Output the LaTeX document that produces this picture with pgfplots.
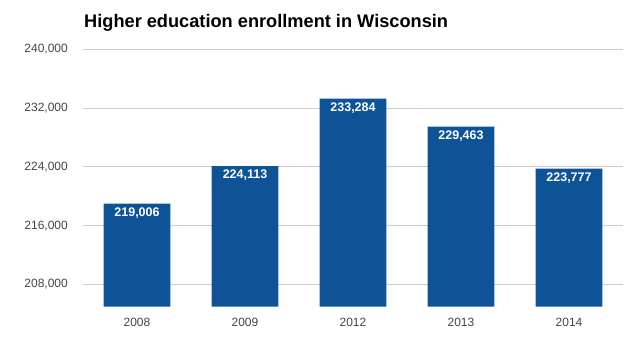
\documentclass[border=0pt]{standalone}
\usepackage{pgfplots}
\pgfplotsset{compat=1.18}
\usepackage{fontspec}
\setmainfont{Liberation Sans}
\definecolor{barblue}{RGB}{14,83,150}
\definecolor{gridgray}{RGB}{204,204,204}
\definecolor{ticktext}{RGB}{68,68,68}
\begin{document}
\begin{tikzpicture}
\useasboundingbox (0bp,0bp) rectangle (643bp,342bp);
\node[anchor=base west, inner sep=0pt, font=\bfseries\fontsize{18.2bp}{21bp}\selectfont] at (84bp,314bp) {Higher education enrollment in Wisconsin};
\begin{axis}[
  at={(83bp,35.5bp)}, anchor=south west,
  scale only axis, width=540bp, height=257.2bp,
  xmin=-0.5, xmax=4.5, ymin=205000, ymax=240000,
  axis line style={draw=none},
  major tick length=0pt,
  xtick=data, xticklabels={2008,2009,2012,2013,2014},
  ytick={208000,216000,224000,232000,240000},
  ymajorgrids, grid style={gridgray, line width=1bp},
  scaled y ticks=false,
  /pgf/number format/.cd, fixed, precision=0, 1000 sep={,}, assume math mode=true,
  /pgfplots/.cd,
  tick label style={font=\fontsize{12bp}{14bp}\selectfont, text=ticktext},
  yticklabel style={anchor=east, inner sep=0pt, xshift=-15bp},
  xticklabel style={anchor=north, inner sep=0pt, yshift=-11bp},
  ybar, bar width=0.62,
  nodes near coords,
  every node near coord/.append style={anchor=north, inner sep=0pt, yshift=-4bp, text=white, font=\bfseries\fontsize{12.5bp}{14bp}\selectfont},
]
\addplot[fill=barblue, draw=none] coordinates {(0,219006) (1,224113) (2,233284) (3,229463) (4,223777)};
\end{axis}
\end{tikzpicture}
\end{document}
